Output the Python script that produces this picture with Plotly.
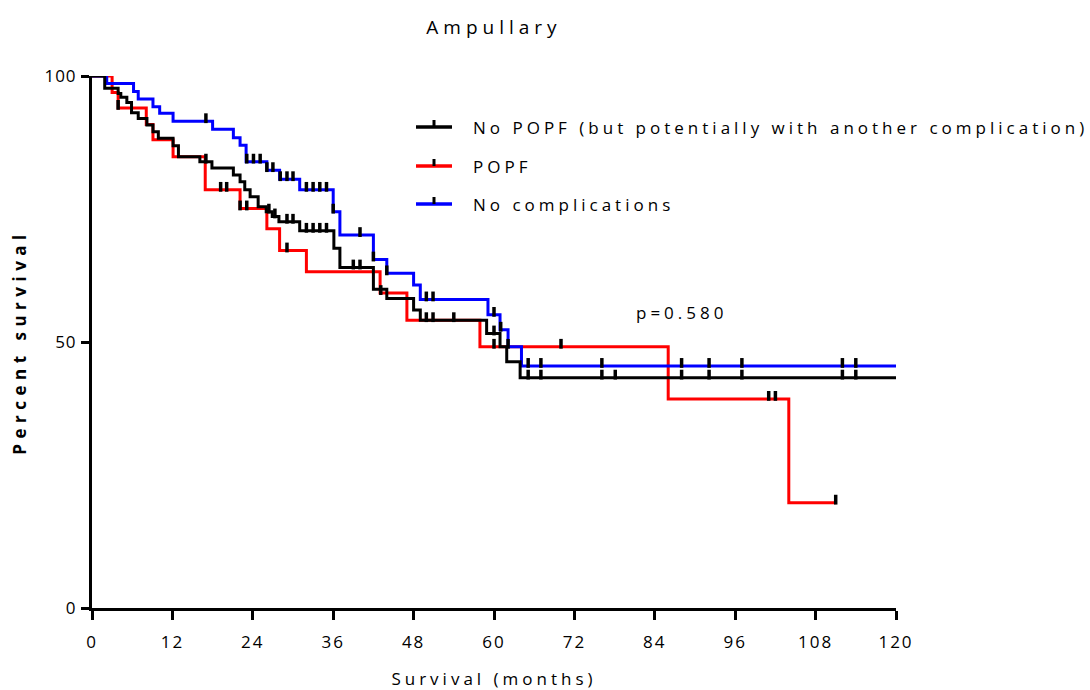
import numpy as np
import plotly.graph_objects as go

# ---------------- data ----------------
title_text = "Ampullary"
x_title = "Survival (months)"
y_title = "Percent survival"
x_ticks = [0, 12, 24, 36, 48, 60, 72, 84, 96, 108, 120]
y_ticks = [0, 50, 100]
p_text = "p=0.580"
p_pos = (88, 55.6)

# No POPF (but potentially with another complication) - black
nopopf_name = "No POPF (but potentially with another complication)"
nopopf_t = [0, 1.9, 3.9, 4.3, 5.2, 5.9, 6.9, 8.2, 9.1, 9.9, 12.1, 12.9, 16.1, 17.9,
            21.1, 22.1, 22.8, 23.6, 24.8, 26.0, 26.9, 27.9, 31.0, 36.1, 37.0, 42.0,
            44.0, 48.0, 49.0, 58.9, 60.9, 61.9, 63.9, 120]
nopopf_s = [100, 97.7, 96.7, 96.0, 95.0, 93.1, 92.0, 90.8, 89.5, 88.3, 86.9, 84.8, 83.9, 82.7,
            81.4, 80.1, 78.6, 77.3, 75.4, 74.5, 73.6, 72.6, 70.9, 67.6, 64.0, 59.9,
            58.2, 56.0, 54.1, 51.6, 49.1, 46.3, 43.3, 43.3]
nopopf_cens = [1.0, 17.0, 26.4, 27.3, 29.1, 30.0, 32.0, 33.0, 34.0, 35.0, 39.0, 40.0,
               49.9, 50.9, 54.0, 60.0, 65.1, 67.0, 76.1, 78.1, 88.0, 92.1, 97.0, 112.0, 114.0]

# POPF - red
popf_name = "POPF"
popf_t = [0, 3.0, 3.9, 8.1, 9.1, 12.1, 16.9, 22.1, 26.1, 28.0, 32.0, 43.0, 47.0, 57.9,
          86.0, 104.0, 111.0]
popf_s = [100, 96.9, 94.0, 90.9, 88.0, 84.8, 78.6, 75.1, 71.3, 67.2, 63.2, 59.2, 54.1, 49.1,
          39.3, 19.8, 19.8]
popf_cens = [3.9, 19.2, 20.1, 22.1, 23.1, 29.1, 43.1, 60.0, 70.0, 101.0, 102.0, 111.0]

# No complications - blue
nocomp_name = "No complications"
nocomp_t = [0, 2.2, 6.2, 6.9, 9.1, 10.1, 12.1, 18.0, 21.1, 22.1, 23.0, 26.1, 28.0, 31.0,
            36.0, 37.0, 42.0, 44.0, 48.0, 49.0, 59.1, 60.9, 62.1, 64.1, 120]
nocomp_s = [100, 98.6, 97.1, 95.7, 94.2, 93.0, 91.5, 90.0, 88.4, 87.0, 83.9, 82.3, 80.6, 78.6,
            74.5, 70.1, 65.5, 62.9, 60.7, 58.0, 55.1, 52.3, 49.1, 45.5, 45.5]
nocomp_cens = [17.0, 23.1, 24.1, 25.1, 26.1, 27.0, 28.1, 29.1, 30.0, 32.0, 33.0, 34.0, 35.0,
               36.0, 40.0, 42.0, 44.0, 49.9, 50.9, 60.0, 61.0, 62.1, 65.1, 67.0, 76.1, 88.0,
               92.1, 97.0, 112.0, 114.0]

# ---------------- styling ----------------
FONT = "Open Sans"
W, H = 1090, 690
M = dict(l=92, r=194, t=76, b=82)
plot_h = H - M["t"] - M["b"]
tick_px = 7                      # censor tick height in px
tick_off = (tick_px / 2 - 0.5) * 100 / plot_h   # lift so the tick sits on top of the line


def level_at(times, surv, t):
    idx = np.searchsorted(np.array(times), np.array(t) + 1e-9, side="right") - 1
    return np.array(surv)[idx]


fig = go.Figure()
series = [
    (popf_name, popf_t, popf_s, popf_cens, "#ff0000"),
    (nocomp_name, nocomp_t, nocomp_s, nocomp_cens, "#0000ff"),
    (nopopf_name, nopopf_t, nopopf_s, nopopf_cens, "#000000"),
]
for name, t, s, c, col in series:
    fig.add_trace(go.Scatter(x=t, y=s, mode="lines", name=name,
                             line=dict(color=col, width=3, shape="hv"),
                             cliponaxis=False, showlegend=False, hoverinfo="skip"))
for name, t, s, c, col in series:
    lv = level_at(t, s, c) + tick_off
    fig.add_trace(go.Scatter(x=c, y=lv, mode="markers", name=name + " censored",
                             marker=dict(symbol="line-ns", size=tick_px,
                                         line=dict(color="black", width=3.5)),
                             cliponaxis=False, showlegend=False, hoverinfo="skip"))

# legend drawn manually (line swatch + tick + text)
legend_order = [(nopopf_name, "#000000"), (popf_name, "#ff0000"), (nocomp_name, "#0000ff")]
leg_y_px = [127, 166, 204]
def px2paper_x(px):
    return (px - M["l"]) / (W - M["l"] - M["r"])
def px2paper_y(py):
    return (H - M["b"] - py) / plot_h
for (name, col), py in zip(legend_order, leg_y_px):
    yy = px2paper_y(py)
    fig.add_shape(type="line", xref="paper", yref="paper",
                  x0=px2paper_x(416), x1=px2paper_x(452), y0=yy, y1=yy,
                  line=dict(color=col, width=3.5))
    fig.add_shape(type="line", xref="paper", yref="paper",
                  x0=px2paper_x(434), x1=px2paper_x(434), y0=yy, y1=px2paper_y(py - 7),
                  line=dict(color="black", width=3))
    fig.add_annotation(text=name, xref="paper", yref="paper", x=px2paper_x(471), y=yy,
                       xanchor="left", yanchor="middle", align="left", showarrow=False,
                       font=dict(family=FONT, size=17, color="black"))

fig.add_annotation(text=p_text, x=p_pos[0], y=p_pos[1], xref="x", yref="y",
                   showarrow=False, font=dict(family=FONT, size=17, color="black"))

fig.update_layout(
    width=W, height=H, margin=M, showlegend=False,
    plot_bgcolor="white", paper_bgcolor="white",
    font=dict(family=FONT, size=17, color="black"),
    title=dict(text=title_text, x=0.5, xref="paper", xanchor="center",
               y=1 - 27 / H, yref="container", yanchor="middle",
               font=dict(family=FONT, size=19, color="black")),
)
fig.update_xaxes(range=[0, 120], tickvals=x_ticks, ticktext=[str(v) for v in x_ticks],
                 ticks="outside", ticklen=9, tickwidth=3, tickcolor="black",
                 showline=True, linewidth=3, linecolor="black", automargin=False,
                 showgrid=False, zeroline=False, ticklabelstandoff=8,
                 tickfont=dict(family=FONT, size=17, color="black"),
                 title=dict(text=x_title, standoff=23,
                            font=dict(family=FONT, size=17, color="black")))
fig.update_yaxes(range=[0, 100], tickvals=y_ticks, ticktext=[str(v) for v in y_ticks],
                 ticks="outside", ticklen=8, tickwidth=3, tickcolor="black",
                 showline=True, linewidth=3, linecolor="black", automargin=False,
                 showgrid=False, zeroline=False, ticklabelstandoff=1,
                 tickfont=dict(family=FONT, size=17, color="black"),
                 title=dict(text="<b>" + y_title + "</b>", standoff=17,
                            font=dict(family=FONT, size=17, color="black")))

post = """
var gd = document.getElementById('{plot_id}');
function ls(){
  gd.querySelectorAll('.gtitle').forEach(function(e){e.style.letterSpacing='5px';});
  gd.querySelectorAll('.xtitle').forEach(function(e){e.style.letterSpacing='4px';});
  gd.querySelectorAll('.ytitle').forEach(function(e){e.style.letterSpacing='5.5px';});
  gd.querySelectorAll('.annotation-text').forEach(function(e){e.style.letterSpacing='4px';});
  gd.querySelectorAll('.xtick text').forEach(function(e){e.style.letterSpacing='2px';});
  gd.querySelectorAll('.ytick text').forEach(function(e){e.style.letterSpacing='1px';});
}
ls(); setTimeout(ls, 0); setTimeout(ls, 200);
if (gd.on) { gd.on('plotly_afterplot', ls); }
"""
fig.write_html("out.html", post_script=post)
